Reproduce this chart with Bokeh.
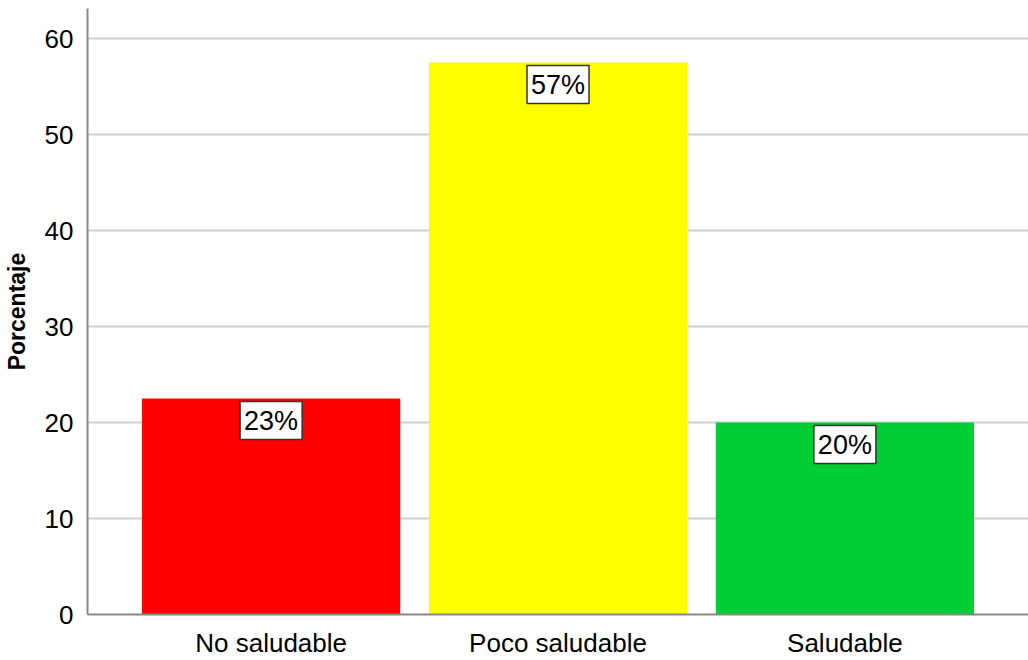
from bokeh.plotting import figure
from bokeh.models import ColumnDataSource, FactorRange, Range1d, FixedTicker
from bokeh.core.properties import value
from bokeh.embed import file_html
from bokeh.resources import INLINE

categories = ["No saludable", "Poco saludable", "Saludable"]
values = [22.5, 57.5, 20.0]
labels = ["23%", "57%", "20%"]
colors = ["#FF0000", "#FFFF00", "#00CC33"]
y_ticks = [0, 10, 20, 30, 40, 50, 60]

src = ColumnDataSource(dict(cat=categories, val=values, lab=labels, col=colors))

p = figure(width=1028, height=660, output_backend="svg", toolbar_location=None,
           x_range=FactorRange(*categories, range_padding=0.14, range_padding_units="absolute"),
           y_range=Range1d(0, 63.125),
           min_border_left=81, min_border_right=0, min_border_top=8, min_border_bottom=46)
p.outline_line_color = None
p.background_fill_color = "white"
p.border_fill_color = "white"

p.vbar(x="cat", top="val", width=0.9, fill_color="col", line_color=None, source=src)

p.text(x="cat", y="val", text="lab", source=src, text_align="center",
       text_baseline="top", y_offset=3, text_font=value("Liberation Sans"),
       text_font_size="27px", text_color="black",
       background_fill_color="white", border_line_color="#333333",
       border_line_width=1.5, padding=4)

p.xgrid.grid_line_color = None
p.ygrid.grid_line_color = "#d0d0d0"
p.ygrid.grid_line_width = 2
p.ygrid.ticker = FixedTicker(ticks=y_ticks)
p.yaxis.ticker = FixedTicker(ticks=y_ticks)

for ax in (p.xaxis[0], p.yaxis[0]):
    ax.axis_line_color = "#888888"
    ax.axis_line_width = 2
    ax.major_tick_line_color = None
    ax.minor_tick_line_color = None
    ax.major_label_text_font = "Liberation Sans"
    ax.major_label_text_font_size = "26px"
    ax.major_label_text_color = "black"

p.xaxis.major_label_standoff = 7
p.yaxis.major_label_standoff = 8
p.yaxis.axis_label = "Porcentaje"
p.yaxis.axis_label_text_font = "Liberation Sans"
p.yaxis.axis_label_text_font_style = "bold"
p.yaxis.axis_label_text_font_size = "23px"
p.yaxis.axis_label_text_color = "black"
p.yaxis.axis_label_standoff = 12

open("out.html", "w").write(file_html(p, INLINE))
